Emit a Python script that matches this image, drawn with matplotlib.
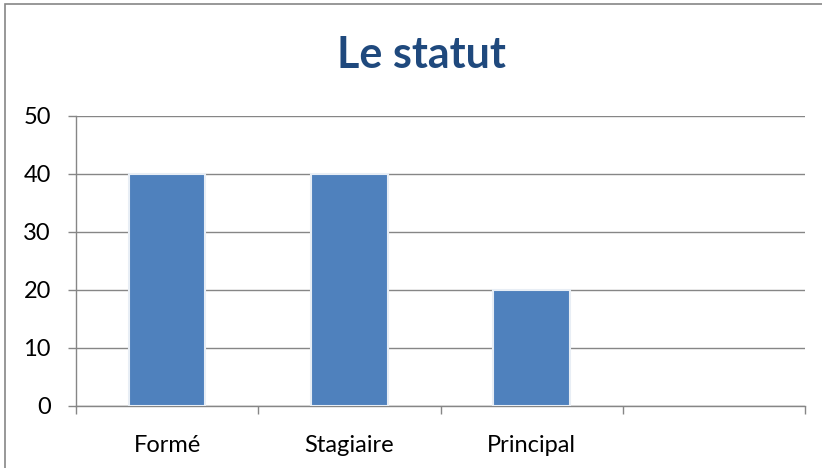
import matplotlib
matplotlib.use("Agg")
import matplotlib.pyplot as plt
from matplotlib.patches import Rectangle

categories = ["Formé", "Stagiaire", "Principal", ""]
values = [40, 40, 20]
yticks = [0, 10, 20, 30, 40, 50]
title = "Le statut"

plt.rcParams['font.family'] = ['Lato', 'DejaVu Sans']

fig = plt.figure(figsize=(8.22, 4.68), dpi=100)
W, H = 822, 468
ax = fig.add_axes([76 / W, 1 - 406 / H, (805 - 76) / W, (406 - 116) / H])

x = list(range(len(categories)))
ax.bar(x[:len(values)], values, width=0.42, color="#4F81BD", edgecolor="#E8EEF5",
       linewidth=1.5, zorder=3)

ax.set_xlim(-0.5, len(categories) - 0.5)
ax.set_ylim(0, 50)
ax.set_yticks(yticks)
ax.set_yticklabels([str(v) for v in yticks], fontsize=17)
ax.set_xticks(x)
ax.set_xticklabels(categories, fontsize=17)
ax.set_xticks([i - 0.5 for i in range(len(categories) + 1)], minor=True)
ax.tick_params(axis='x', which='major', length=0, pad=21)
ax.tick_params(axis='x', which='minor', length=6, color="#868686", width=1)
ax.tick_params(axis='y', length=6, color="#868686", width=1, pad=12)

ax.yaxis.grid(True, color="#868686", linewidth=1, zorder=0)
ax.set_axisbelow(True)
for s in ['top', 'right']:
    ax.spines[s].set_visible(False)
for s in ['left', 'bottom']:
    ax.spines[s].set_color("#868686")
    ax.spines[s].set_linewidth(1)

fig.text(421 / W, 1 - 55 / H, title, ha='center', va='center', fontsize=31,
         fontweight='bold', color="#1F497D")

fig.patches.append(Rectangle((5 / W, -0.1), 1.2, 1 - 4 / H + 0.1, transform=fig.transFigure,
                             fill=False, edgecolor="#868686", linewidth=1.2))

fig.savefig("out.png", dpi=100)
